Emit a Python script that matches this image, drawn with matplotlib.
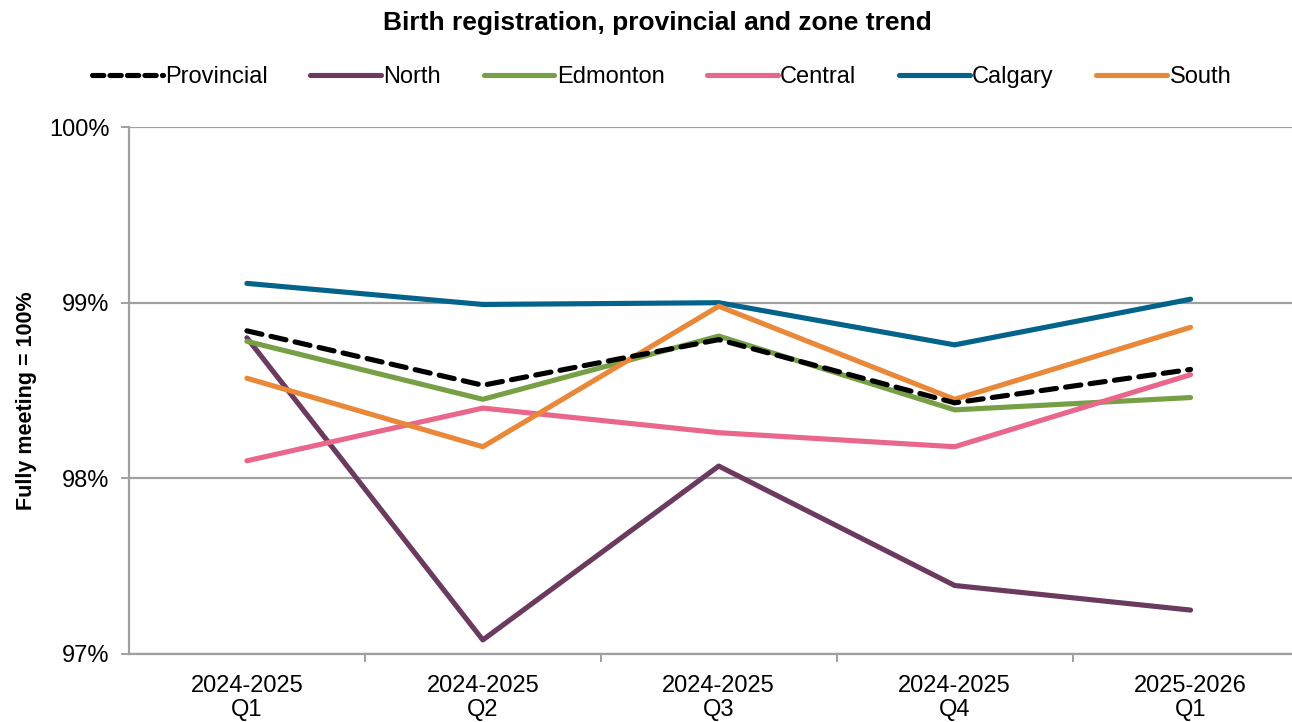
import matplotlib.pyplot as plt
from matplotlib.lines import Line2D
from matplotlib.ticker import FuncFormatter

plt.rcParams['font.family'] = ['Liberation Sans', 'DejaVu Sans']

quarters = ['2024-2025\nQ1', '2024-2025\nQ2', '2024-2025\nQ3', '2024-2025\nQ4', '2025-2026\nQ1']
provincial = [98.84, 98.53, 98.79, 98.43, 98.62]
north = [98.80, 97.08, 98.07, 97.39, 97.25]
edmonton = [98.78, 98.45, 98.81, 98.39, 98.46]
central = [98.10, 98.40, 98.26, 98.18, 98.59]
calgary = [99.11, 98.99, 99.00, 98.76, 99.02]
south = [98.57, 98.18, 98.98, 98.45, 98.86]

fig = plt.figure(figsize=(12.92, 7.22), dpi=100)
ax = fig.add_axes([0.0998, 0.0942, 0.9002, 0.7298])

x = range(len(quarters))
lw = 3.7
ax.plot(x, north, color='#6B3A5F', lw=lw, solid_capstyle='round')
ax.plot(x, edmonton, color='#77A046', lw=lw, solid_capstyle='round')
ax.plot(x, central, color='#E8678A', lw=lw, solid_capstyle='round')
ax.plot(x, calgary, color='#03638A', lw=lw, solid_capstyle='round')
ax.plot(x, south, color='#E88838', lw=lw, solid_capstyle='round')
ax.plot(x, provincial, color='black', lw=lw, ls=(0, (3, 1.8)), dash_capstyle='round')

ax.set_ylim(97, 100)
ax.set_yticks([97, 98, 99, 100])
ax.yaxis.set_major_formatter(FuncFormatter(lambda v, p: '%d%%' % v))
ax.set_xlim(-0.5, 4.43)
ax.set_xticks(list(x))
ax.set_xticklabels(quarters)
ax.set_xticks([0.5, 1.5, 2.5, 3.5], minor=True)
ax.tick_params(axis='x', which='major', length=0, labelsize=17, pad=15)
ax.tick_params(axis='x', which='minor', length=6, color='#999999', width=1.3)
ax.tick_params(axis='y', length=6, color='#999999', width=1.3, labelsize=17, pad=8)
ax.grid(axis='y', color='#A0A0A0', lw=1.6)
ax.set_axisbelow(True)
for s in ['top', 'right']:
    ax.spines[s].set_visible(False)
for s in ['left', 'bottom']:
    ax.spines[s].set_color('#A0A0A0')
    ax.spines[s].set_linewidth(1.6)
for lbl in ax.get_xticklabels():
    lbl.set_linespacing(1.15)

ax.set_ylabel('Fully meeting = 100%', fontsize=15.5, fontweight='bold')
ax.yaxis.set_label_coords(-0.079, 0.48)
fig.suptitle('Birth registration, provincial and zone trend', fontsize=19,
             fontweight='bold', x=0.509, y=0.985)

handles = [
    Line2D([], [], color='black', lw=lw, ls=(0, (2.2, 1.2)), dash_capstyle='round'),
    Line2D([], [], color='#6B3A5F', lw=lw, solid_capstyle='round'),
    Line2D([], [], color='#77A046', lw=lw, solid_capstyle='round'),
    Line2D([], [], color='#E8678A', lw=lw, solid_capstyle='round'),
    Line2D([], [], color='#03638A', lw=lw, solid_capstyle='round'),
    Line2D([], [], color='#E88838', lw=lw, solid_capstyle='round'),
]
names = ['Provincial', 'North', 'Edmonton', 'Central', 'Calgary', 'South']
fig.legend(handles, names, loc='center', bbox_to_anchor=(0.512, 0.893), ncol=6,
           frameon=False, fontsize=17, handlelength=3.0, handletextpad=0.1,
           columnspacing=1.8)

fig.savefig('out.png', dpi=100)
